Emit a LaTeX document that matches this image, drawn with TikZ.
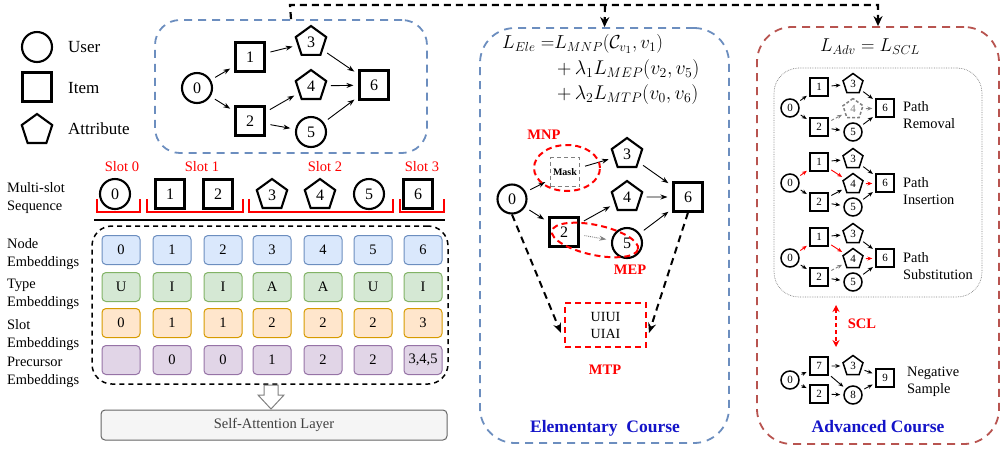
\documentclass[tikz,border=0pt]{standalone}
\usepackage[no-math]{fontspec}
\setmainfont{Liberation Serif}
\usetikzlibrary{shapes.geometric,arrows.meta,calc}
\definecolor{bdash}{HTML}{6C8EBF}
\definecolor{rdash}{HTML}{B85450}
\definecolor{ttl}{RGB}{20,20,200}
\definecolor{nbF}{HTML}{DAE8FC}\definecolor{nbD}{HTML}{6C8EBF}
\definecolor{tyF}{HTML}{D5E8D4}\definecolor{tyD}{HTML}{82B366}
\definecolor{slF}{HTML}{FFE6CC}\definecolor{slD}{HTML}{D79B00}
\definecolor{prF}{HTML}{E1D5E7}\definecolor{prD}{HTML}{9673A6}
\definecolor{saF}{HTML}{F5F5F5}\definecolor{saD}{HTML}{666666}
\newcommand\fsz[2]{\fontsize{#1}{#2}\selectfont}
\begin{document}
\begin{tikzpicture}[x=1pt,y=-1pt,
 usr/.style={circle,draw,line width=2.1pt,minimum size=30pt,inner sep=0pt,font=\fsz{16}{16}},
 itm/.style={rectangle,draw,line width=2.05pt,minimum size=29pt,inner sep=0pt,font=\fsz{16}{16}},
 att/.style={regular polygon,regular polygon sides=5,draw,line width=2.1pt,minimum size=32pt,inner sep=0pt,font=\fsz{16}{16}},
 susr/.style={circle,draw,line width=1.5pt,minimum size=18pt,inner sep=0pt,font=\fsz{11}{11}},
 sitm/.style={rectangle,draw,line width=1.4pt,minimum size=18pt,inner sep=0pt,font=\fsz{11}{11}},
 satt/.style={regular polygon,regular polygon sides=5,draw,line width=1.5pt,minimum size=21pt,inner sep=0pt,font=\fsz{11}{11}},
 arr/.style={-{Stealth[length=7pt,width=5pt]},line width=0.9pt,shorten >=5pt,shorten <=5pt},
 sarr/.style={-{Stealth[length=5pt,width=4pt]},line width=0.9pt,shorten >=3pt,shorten <=3pt},
 rarr/.style={sarr,red},
 garr/.style={sarr,gray,densely dashed},
 lbl/.style={font=\fsz{14.4}{18},align=left,anchor=west,inner sep=0pt},
 slotlbl/.style={font=\fsz{14.5}{15},text=red,inner sep=0pt},
 redtag/.style={font=\bfseries\fsz{14.5}{15},text=red,inner sep=0pt},
 embcell/.style={rectangle,rounded corners=4pt,minimum width=38pt,minimum height=29pt,line width=1pt,inner sep=0pt,font=\fsz{14.5}{15}},
 brk/.style={red,line width=1.2pt},
 topd/.style={line width=2.2pt,dash pattern=on 7pt off 5pt},
 mtpa/.style={line width=2pt,dash pattern=on 7pt off 5pt,-{Stealth[length=10pt,width=8pt]}},
 mathf/.style={inner sep=0pt,font=\fsz{17.28}{20}},
 ttlf/.style={font=\bfseries\fsz{17.5}{18},text=ttl,inner sep=0pt}
]
\useasboundingbox (0,0) rectangle (1002,451);

% ---------- legend ----------
\node[usr] (lu) at (37,47) {};
\node[lbl,font=\fsz{17}{18}] (lut) at (68,47) {User};
\node[itm] (li) at (37,87) {};
\node[lbl,font=\fsz{17}{18}] (lit) at (68,88) {Item};
\node[att] (la) at (37,130) {};
\node[lbl,font=\fsz{17}{18}] (lat) at (68,129) {Attribute};

% ---------- top graph ----------
\node[draw=bdash,line width=1.8pt,dash pattern=on 8pt off 6pt,rounded corners=25pt,minimum width=272pt,minimum height=133pt] (gbox) at (291,86.5) {};
\node[usr] (g0) at (197,88) {0};
\node[itm] (g1) at (250,57) {1};
\node[itm] (g2) at (250,121) {2};
\node[att] (g3) at (311,42) {3};
\node[att] (g4) at (311,86) {4};
\node[usr] (g5) at (311,132) {5};
\node[itm] (g6) at (374,85) {6};
\draw[arr] (g0) -- (g1);
\draw[arr] (g0) -- (g2);
\draw[arr] (g1) -- (g3);
\draw[arr] (g2) -- (g4);
\draw[arr] (g2) -- (g5);
\draw[arr] (g3) -- (g6);
\draw[arr] (g4) -- (g6);
\draw[arr] (g5) -- (g6);

% ---------- slots ----------
\node[slotlbl] (s0l) at (122,167) {Slot 0};
\node[slotlbl] (s1l) at (202,167) {Slot 1};
\node[slotlbl] (s2l) at (325,167) {Slot 2};
\node[slotlbl] (s3l) at (422,167) {Slot 3};
\node[lbl] (msl) at (7,198.5) {Multi-slot\\Sequence};
\node[usr] (q0) at (115,194) {0};
\node[itm] (q1) at (170,194) {1};
\node[itm] (q2) at (218,194) {2};
\node[att] (q3) at (272,195) {3};
\node[att] (q4) at (320,195) {4};
\node[usr] (q5) at (369,194) {5};
\node[itm] (q6) at (418,194) {6};
\draw[brk] (97,199) -- (97,212) -- (140,212) -- (140,199);
\draw[brk] (147,199) -- (147,212) -- (243,212) -- (243,199);
\draw[brk] (249,199) -- (249,212) -- (393,212) -- (393,199);
\draw[brk] (400,199) -- (400,212) -- (444,212) -- (444,199);
\draw[line width=2pt] (94,220) -- (445,220);

% ---------- embeddings ----------
\node[draw,line width=1.5pt,dash pattern=on 5pt off 4pt,rounded corners=20pt,minimum width=356pt,minimum height=158pt] (ebox) at (270,305) {};
\node[lbl] (nel) at (7,254) {Node\\Embeddings};
\node[lbl] (tel) at (7,294) {Type\\Embeddings};
\node[lbl] (sel) at (7,335) {Slot\\Embeddings};
\node[lbl] (pel) at (7,372) {Precursor\\Embeddings};
\foreach \x/\t [count=\i] in {121/0,172/1,223/2,272/3,323/4,373/5,423/6}
  \node[embcell,fill=nbF,draw=nbD] (ne\i) at (\x,250) {\t};
\foreach \x/\t [count=\i] in {121/U,172/I,223/I,272/A,323/A,373/U,423/I}
  \node[embcell,fill=tyF,draw=tyD] (te\i) at (\x,287) {\t};
\foreach \x/\t [count=\i] in {121/0,172/1,223/1,272/2,323/2,373/2,423/3}
  \node[embcell,fill=slF,draw=slD] (se\i) at (\x,323) {\t};
\node[embcell,fill=prF,draw=prD] (pe1) at (121,360) {};
\node[embcell,fill=prF,draw=prD] (pe2) at (172,360) {0};
\node[embcell,fill=prF,draw=prD] (pe3) at (223,360) {0};
\node[embcell,fill=prF,draw=prD] (pe4) at (272,360) {1};
\node[embcell,fill=prF,draw=prD] (pe5) at (323,360) {2};
\node[embcell,fill=prF,draw=prD] (pe6) at (373,360) {2};
\node[embcell,fill=prF,draw=prD] (pe7) at (423,360) {3,4,5};
\draw[gray,fill=white,line width=1pt] (264,385) -- (278,385) -- (278,395) -- (284,395) -- (271,409) -- (258,395) -- (264,395) -- cycle;
\node[rectangle,rounded corners=4pt,fill=saF,draw=saD,line width=1pt,minimum width=346pt,minimum height=30pt,font=\fsz{14.5}{15},text=black!75] (sa) at (274,425) {Self-Attention Layer};

% ---------- elementary course ----------
\node[draw=bdash,line width=1.8pt,dash pattern=on 8pt off 6pt,rounded corners=35pt,minimum width=249pt,minimum height=415pt] (mbox) at (604.5,235.5) {};
\node[mathf,anchor=west] (f1) at (502,44) {\scalebox{1.09}{$L_{Ele}\;{=}L_{MNP}(\mathcal{C}_{v_1}, v_1)$}};
\node[mathf,anchor=west] (f2) at (557,70) {\scalebox{1.15}{$+\,\lambda_1 L_{MEP}(v_2, v_5)$}};
\node[mathf,anchor=west] (f3) at (557,95) {\scalebox{1.15}{$+\,\lambda_2 L_{MTP}(v_0, v_6)$}};
\node[usr,minimum size=29pt] (m0) at (512,199) {0};
\node[rectangle,draw=gray,line width=1.5pt,dash pattern=on 4pt off 3pt,minimum size=29pt,inner sep=0pt,font=\bfseries\fsz{10}{10}] (mm) at (565,172) {Mask};
\node[att] (m3) at (627,154) {3};
\node[att] (m4) at (627,197) {4};
\node[itm] (m6) at (688,197) {6};
\node[itm] (m2) at (564,232) {2};
\node[usr] (m5) at (627,243) {5};
\draw[arr] (m0) -- (mm);
\draw[arr] (m0) -- (m2);
\draw[arr] (mm) -- (m3);
\draw[arr] (m2) -- (m4);
\draw[arr,gray,densely dotted] (m2) -- (m5);
\draw[arr] (m3) -- (m6);
\draw[arr] (m4) -- (m6);
\draw[arr] (m5) -- (m6);
\node[ellipse,draw=red,line width=2pt,dash pattern=on 6pt off 4pt,minimum width=66pt,minimum height=46pt] (mnp) at (567,168) {};
\node[ellipse,draw=red,line width=2pt,dash pattern=on 6pt off 4pt,minimum width=88pt,minimum height=30pt,rotate=-12] (mep) at (595,240) {};
\node[redtag] (mnpt) at (544,135) {MNP};
\node[redtag] (mept) at (630,270) {MEP};
\node[rectangle,draw=red,line width=2pt,dash pattern=on 6pt off 4pt,minimum width=81pt,minimum height=44pt,align=center,font=\fsz{14}{17}] (mtp) at (605.5,325) {UIUI\\UIAI};
\node[redtag] (mtpt) at (605,370) {MTP};
\draw[mtpa] (m0.south) -- ($(mtp.south west)+(-3,-15)$);
\draw[mtpa] (m6.south) -- ($(mtp.south east)+(2,-15)$);
\node[ttlf] (ec) at (605,428) {Elementary\ \ Course};

% ---------- advanced course ----------
\node[draw=rdash,line width=1.8pt,dash pattern=on 8pt off 6pt,rounded corners=35pt,minimum width=242pt,minimum height=417pt] (rbox) at (878,235.5) {};
\node[mathf] (f4) at (870,47) {\scalebox{1.08}{$L_{Adv} = L_{SCL}$}};
\node[draw=gray,line width=0.7pt,densely dotted,rounded corners=25pt,minimum width=208pt,minimum height=229pt] (ibox) at (878,182.5) {};

% removal
\node[susr] (a0) at (790,108) {0};
\node[sitm] (a1) at (819,87) {1};
\node[sitm] (a2) at (819,127) {2};
\node[satt] (a3) at (853,84) {3};
\node[satt,draw=gray,densely dashed,text=gray] (a4) at (853,109) {4};
\node[susr] (a5) at (853,132) {5};
\node[sitm] (a6) at (885,108) {6};
\draw[sarr] (a0) -- (a1);
\draw[sarr] (a0) -- (a2);
\draw[sarr] (a1) -- (a3);
\draw[sarr] (a3) -- (a6);
\draw[garr] (a2) -- (a4);
\draw[garr] (a4) -- (a6);
\draw[sarr] (a2) -- (a5);
\draw[sarr] (a5) -- (a6);
\node[lbl,font=\fsz{14.4}{17}] (at) at (903,115.5) {Path\\Removal};

% insertion
\node[susr] (b0) at (790,183) {0};
\node[sitm] (b1) at (819,162) {1};
\node[sitm] (b2) at (819,202) {2};
\node[satt] (b3) at (853,159) {3};
\node[satt] (b4) at (853,184) {4};
\node[susr] (b5) at (853,207) {5};
\node[sitm] (b6) at (885,183) {6};
\draw[rarr] (b0) -- (b1);
\draw[sarr] (b0) -- (b2);
\draw[sarr] (b1) -- (b3);
\draw[rarr] (b1) -- (b4);
\draw[sarr] (b3) -- (b6);
\draw[rarr] (b4) -- (b6);
\draw[sarr] (b2) -- (b4);
\draw[sarr] (b2) -- (b5);
\draw[sarr] (b5) -- (b6);
\node[lbl,font=\fsz{14.4}{17}] (bt) at (903,191) {Path\\Insertion};

% substitution
\node[susr] (c0) at (790,258) {0};
\node[sitm] (c1) at (819,237) {1};
\node[sitm] (c2) at (819,277) {2};
\node[satt] (c3) at (853,234) {3};
\node[satt] (c4) at (853,259) {4};
\node[susr] (c5) at (853,282) {5};
\node[sitm] (c6) at (885,258) {6};
\draw[rarr] (c0) -- (c1);
\draw[sarr] (c0) -- (c2);
\draw[sarr] (c1) -- (c3);
\draw[rarr] (c1) -- (c4);
\draw[sarr] (c3) -- (c6);
\draw[rarr] (c4) -- (c6);
\draw[garr] (c2) -- (c4);
\draw[sarr] (c2) -- (c5);
\draw[sarr] (c5) -- (c6);
\node[lbl,font=\fsz{14.4}{17}] (ct) at (903,266) {Path\\Substitution};

% SCL
\coordinate (sclA) at (836,305);
\coordinate (sclB) at (836,347);
\draw[red,line width=1.8pt,dash pattern=on 4pt off 3pt,{Stealth[length=7pt,width=7pt]}-{Stealth[length=7pt,width=7pt]}] (sclA) -- (sclB);
\node[redtag] (sclt) at (862,324) {SCL};

% negative
\node[susr] (n0) at (790,380) {0};
\node[sitm] (n7) at (819,366) {7};
\node[sitm] (n2) at (819,394) {2};
\node[satt] (n3) at (853,366) {3};
\node[susr] (n8) at (853,395) {8};
\node[sitm] (n9) at (885,378) {9};
\draw[sarr] (n0) -- (n7);
\draw[sarr] (n0) -- (n2);
\draw[sarr] (n7) -- (n3);
\draw[sarr] (n7) -- (n8);
\draw[sarr] (n2) -- (n8);
\draw[sarr] (n3) -- (n9);
\draw[sarr] (n8) -- (n9);
\node[lbl,font=\fsz{14.4}{17}] (nt) at (907,382) {Negative\\Sample};
\node[ttlf] (ac) at (878,427) {Advanced Course};

% ---------- top connector ----------
\coordinate (tA) at (gbox.north);
\coordinate (tC1) at (290,5);
\coordinate (tC2) at (878,5);
\coordinate (tC3) at (605,5);
\draw[topd,-{Stealth[length=10pt,width=9pt]}] (tA) -- (tC1) -- (tC2) -- (rbox.north);
\draw[topd,-{Stealth[length=10pt,width=9pt]}] (tC3) -- (mbox.north);
\end{tikzpicture}
\end{document}
